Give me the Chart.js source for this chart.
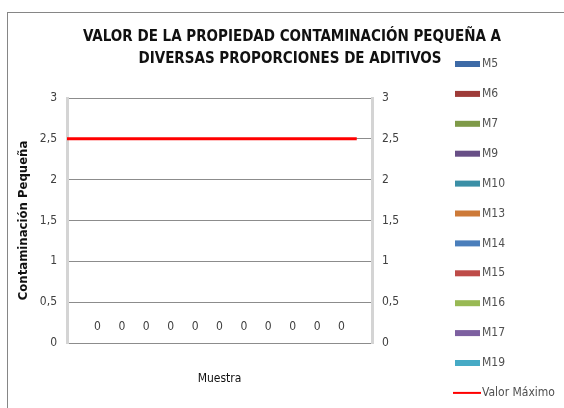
<!DOCTYPE html>
<html>
<head>
<meta charset="utf-8">
<script src="https://cdn.jsdelivr.net/npm/chart.js@4/dist/chart.umd.min.js"></script>
<style>
  html, body { margin: 0; padding: 0; background: #fff; }
  #wrap { width: 564px; height: 408px; position: relative; }
</style>
</head>
<body>
<div id="wrap"><canvas id="chart"></canvas></div>
<script>
// Chart data
const titleLines = ['VALOR DE LA PROPIEDAD CONTAMINACIÓN PEQUEÑA A', 'DIVERSAS PROPORCIONES DE ADITIVOS'];
const categoryX = [0.5]; // the single sample group sits in the middle of the x range
const seriesNames = ['M5', 'M6', 'M7', 'M9', 'M10', 'M13', 'M14', 'M15', 'M16', 'M17', 'M19'];
const seriesValues = [0, 0, 0, 0, 0, 0, 0, 0, 0, 0, 0];
const seriesColors = ['#3d6aa6', '#9e3b38', '#7e9a48', '#684f86', '#3b8fa6', '#cd7a38',
  '#4a7ebb', '#be4b48', '#98b954', '#7d60a0', '#46aac5'];
const maxLabel = 'Valor Máximo';
const maxLineX = [0, 0.95];
const maxLineY = [2.5, 2.5];
const yTickLabels = ['0', '0,5', '1', '1,5', '2', '2,5', '3'];

const FONT = '"Liberation Sans Narrow", "DejaVu Sans Condensed", Arial, sans-serif';

// Frame, title and legend drawn by hand
const decorPlugin = {
  id: 'decor',
  beforeDraw(chart) {
    const { ctx } = chart;
    ctx.save();
    ctx.fillStyle = '#fff';
    ctx.fillRect(0, 0, chart.width, chart.height);
    ctx.strokeStyle = '#868686';
    ctx.lineWidth = 1;
    ctx.strokeRect(7.5, 12.5, 620, 520);
    ctx.restore();
  },
  afterDraw(chart) {
    const { ctx } = chart;
    ctx.save();
    // title
    ctx.fillStyle = '#111';
    ctx.font = 'bold 15px ' + FONT;
    ctx.textBaseline = 'middle';
    ctx.textAlign = 'center';
    ctx.fillText(titleLines[0], 292, 37);
    ctx.fillText(titleLines[1], 290, 59);

    // legend
    ctx.font = '12px ' + FONT;
    ctx.textAlign = 'left';
    chart.data.datasets.forEach((ds, i) => {
      const y = 64 + i * 29.9;
      if (ds.type === 'line') {
        ctx.strokeStyle = ds.borderColor;
        ctx.lineWidth = 2;
        ctx.beginPath();
        ctx.moveTo(453, y);
        ctx.lineTo(481, y);
        ctx.stroke();
      } else {
        ctx.fillStyle = ds.backgroundColor;
        ctx.fillRect(455, y - 3, 25, 6);
      }
      ctx.fillStyle = '#505050';
      ctx.fillText(ds.label, 482, y);
    });
    ctx.restore();
  },
  afterDatasetsDraw(chart) {
    const { ctx } = chart;
    const yScale = chart.scales.y;
    ctx.save();
    ctx.font = '12px ' + FONT;
    ctx.fillStyle = '#404040';
    ctx.textAlign = 'center';
    ctx.textBaseline = 'middle';
    chart.data.datasets.forEach((ds, i) => {
      if (ds.type === 'line') return;
      const bar = chart.getDatasetMeta(i).data[0];
      const v = ds.data[0].y;
      ctx.fillText(String(v).replace('.', ','), bar.x, yScale.getPixelForValue(v) - 16);
    });
    ctx.restore();
  },
};

const datasets = seriesNames.map((name, i) => ({
  type: 'bar',
  label: name,
  data: [{ x: categoryX[0], y: seriesValues[i] }],
  backgroundColor: seriesColors[i],
  borderWidth: 0,
  categoryPercentage: 0.88,
  barPercentage: 1,
}));

datasets.push({
  type: 'line',
  label: maxLabel,
  data: maxLineX.map((x, i) => ({ x, y: maxLineY[i] })),
  borderColor: '#ff0000',
  backgroundColor: '#ff0000',
  borderWidth: 3,
  pointRadius: 0,
});

// eslint-disable-next-line no-new
new Chart(document.getElementById('chart'), {
  data: { datasets },
  options: {
    responsive: true,
    maintainAspectRatio: false,
    animation: false,
    layout: { padding: { left: 7, top: 98, right: 124, bottom: 0 } },
    plugins: {
      legend: { display: false },
      title: { display: false },
      tooltip: { enabled: false },
    },
    scales: {
      x: {
        type: 'linear',
        min: 0,
        max: 1,
        offset: false,
        afterFit: (scale) => { scale.height = 65; },
        ticks: { display: false, stepSize: 1 },
        grid: { display: false },
        border: { color: '#8c8c8c', width: 1 },
        title: {
          display: true,
          text: 'Muestra',
          color: '#111',
          font: { family: FONT, size: 12 },
          padding: { top: 0, bottom: 22 },
        },
      },
      y: {
        position: 'left',
        min: 0,
        max: 3,
        afterFit: (scale) => { scale.width = 60; },
        ticks: {
          stepSize: 0.5,
          padding: 10,
          color: '#404040',
          font: { family: FONT, size: 12 },
          callback: (v, i) => yTickLabels[i],
        },
        grid: { color: '#8c8c8c', lineWidth: 1, drawTicks: false },
        border: { color: '#d4d4d4', width: 3 },
        title: {
          display: true,
          text: 'Contaminación Pequeña',
          color: '#111',
          font: { family: FONT, size: 13, weight: 'bold' },
          padding: { top: 9, bottom: 0 },
        },
      },
      y2: {
        position: 'right',
        min: 0,
        max: 3,
        afterFit: (scale) => { scale.width = 68; },
        ticks: {
          stepSize: 0.5,
          padding: 10,
          color: '#404040',
          font: { family: FONT, size: 12 },
          callback: (v, i) => yTickLabels[i],
        },
        grid: { drawOnChartArea: false, drawTicks: false },
        border: { color: '#d4d4d4', width: 3 },
      },
    },
  },
  plugins: [decorPlugin],
});
</script>
</body>
</html>
